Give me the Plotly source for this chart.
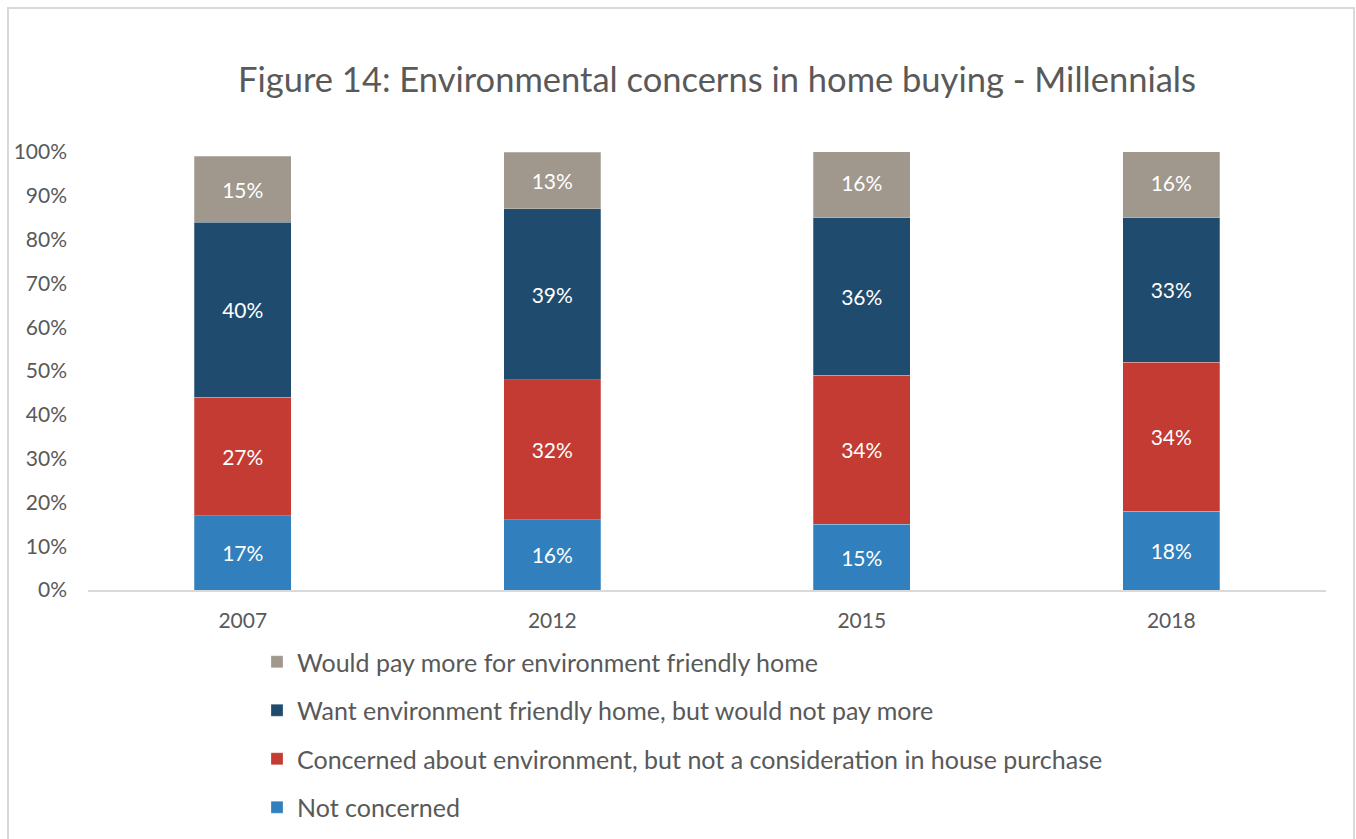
import plotly.graph_objects as go

years = ["2007", "2012", "2015", "2018"]
not_concerned = [17, 16, 15, 18]
concerned_no_consider = [27, 32, 34, 34]
want_no_pay = [40, 39, 36, 33]
would_pay_more = [15, 13, 16, 16]

series = [
    ("Not concerned", not_concerned, "#3180BD"),
    ("Concerned about environment, but not a consideration in house purchase", concerned_no_consider, "#C33B32"),
    ("Want environment friendly home, but would not pay more", want_no_pay, "#1F4B6E"),
    ("Would pay more for environment friendly home", would_pay_more, "#A0978D"),
]

FONT = "Lato"
W, H = 1356, 839
L, R, T, B = 88, 30, 152, 249
pw, ph = W - L - R, H - T - B

def px_x(p):
    return (p - L) / pw

def px_y(p):
    return (H - B - p) / ph

fig = go.Figure()
n = len(series)
for i, (name, vals, col) in enumerate(series):
    fig.add_trace(go.Bar(
        x=years, y=vals, name=name, legendgroup=f"g{i}", legendrank=1000 + (n - i),
        marker=dict(color=col, line=dict(color="rgba(255,255,255,0.5)", width=0.5)),
        text=[f"{v}%" for v in vals], textposition="inside",
        insidetextanchor="middle", textangle=0, constraintext="none",
        textfont=dict(color="white", size=21, family=FONT),
        hoverinfo="skip",
    ))

fig.update_layout(
    width=W, height=H,
    barmode="stack", bargap=0.687,
    plot_bgcolor="white", paper_bgcolor="white",
    margin=dict(l=L, r=R, t=T, b=B, autoexpand=False),
    font=dict(family=FONT, color="#595959"),
    title=dict(text="Figure 14: Environmental concerns in home buying - Millennials",
               xref="container", x=717 / W, xanchor="center", y=1 - 80 / H, yanchor="middle",
               font=dict(size=34.5, color="#595959", family=FONT)),
    xaxis=dict(showgrid=False, showline=True, linecolor="#D9D9D9", linewidth=1.5,
               ticks="", tickfont=dict(size=21, color="#595959"), ticklabelstandoff=11),
    yaxis=dict(range=[0, 100], dtick=10, ticksuffix="%", showgrid=False, zeroline=False,
               showline=False, ticks="", tickfont=dict(size=21, color="#595959"),
               ticklabelstandoff=20),
    legend=dict(orientation="v", traceorder="grouped", tracegroupgap=13,
                x=px_x(257), xanchor="left", yref="container", y=1 - 639 / H, yanchor="top",
                font=dict(size=25, color="#595959", family=FONT),
                bgcolor="rgba(0,0,0,0)"),
    showlegend=True,
    shapes=[dict(type="rect", xref="paper", yref="paper",
                 x0=px_x(8), x1=px_x(1354), y0=px_y(900), y1=px_y(8),
                 line=dict(color="#D9D9D9", width=2), layer="below")],
)

fig.write_html("out.html")
